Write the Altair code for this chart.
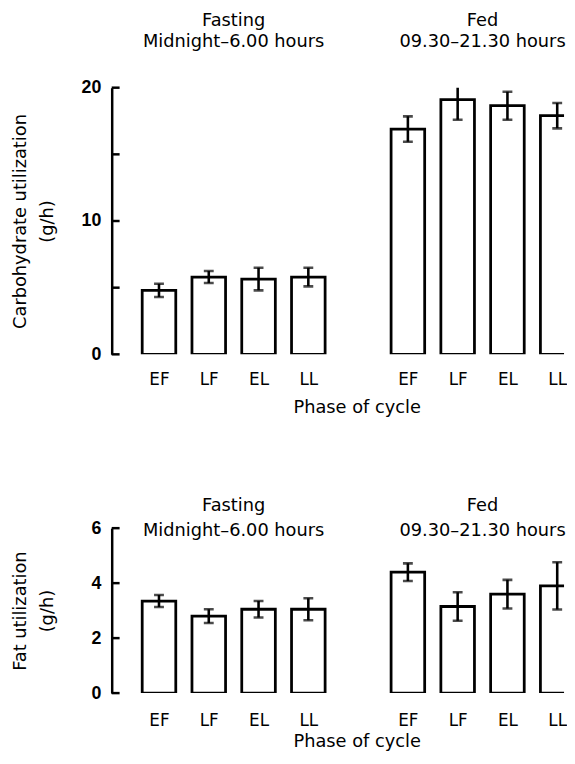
import altair as alt
import pandas as pd

# ---- data ----
phases = ["EF", "LF", "EL", "LL"]
slots_fast = [0, 1, 2, 3]
slots_fed = [5, 6, 7, 8]

carb_mean_fast = [4.8, 5.8, 5.65, 5.8]
carb_err_fast = [0.5, 0.45, 0.85, 0.7]
carb_mean_fed = [16.9, 19.1, 18.65, 17.9]
carb_err_fed = [0.95, 1.5, 1.05, 0.95]

fat_mean_fast = [3.35, 2.8, 3.05, 3.05]
fat_err_fast = [0.22, 0.25, 0.3, 0.4]
fat_mean_fed = [4.4, 3.15, 3.6, 3.9]
fat_err_fed = [0.32, 0.52, 0.52, 0.86]

carb_ticks = [0, 5, 10, 15, 20]
carb_labels = [0, 10, 20]
fat_ticks = [0, 2, 4, 6]
fat_labels = [0, 2, 4, 6]

header_titles = ["Fasting", "Fed"]
header_times = ["Midnight\u20136.00 hours", "09.30\u201321.30 hours"]
header_slots = [1.5, 6.5]

FONT = "DejaVu Sans"
all_slots = slots_fast + slots_fed
label_list = phases + [""] + phases
label_expr = "[" + ",".join("'%s'" % s for s in label_list) + "][datum.value]"

PLOT_W = 458
X_DOMAIN = [-0.95, 8.137]


def panel(mean_f, err_f, mean_d, err_d, ydom, ticks, labels, ytitle, h,
          hy1, hy2, xlabpad, xtitlepad, ytitlepad):
    df = pd.DataFrame({
        "slot": all_slots,
        "phase": phases * 2,
        "mean": mean_f + mean_d,
        "err": err_f + err_d,
    })
    xscale = alt.Scale(domain=X_DOMAIN, nice=False, zero=False, padding=0)
    yscale = alt.Scale(domain=ydom, nice=False, zero=True, padding=0)
    xaxis = alt.Axis(values=all_slots, labelExpr=label_expr, domain=False,
                     ticks=False, grid=False, labelFont=FONT, labelFontSize=17,
                     labelColor="black", labelPadding=xlabpad, labelAngle=0,
                     title="Phase of cycle", titleFont=FONT, titleFontSize=18,
                     titleFontWeight="normal", titleColor="black",
                     titlePadding=xtitlepad, titleX=248, labelOverlap=False,
                     labelBound=False, labelFlush=False)
    yaxis = alt.Axis(values=labels, ticks=False, grid=False, domainColor="black",
                     domainWidth=2.5, labelFont="Liberation Sans", labelFontWeight="bold",
                     labelFontSize=18, labelColor="black", labelPadding=11,
                     title=ytitle, titleFont=FONT, titleFontSize=18,
                     titleFontWeight="normal", titleColor="black",
                     titleLineHeight=27, titlePadding=ytitlepad)

    def X(f):
        return alt.X(f, type="quantitative", scale=xscale, axis=xaxis, title="Phase of cycle")

    def Y(f):
        return alt.Y(f, type="quantitative", scale=yscale, axis=yaxis, title=ytitle)

    base = alt.Chart(df).transform_calculate(
        lo="datum.mean - datum.err", hi="datum.mean + datum.err")

    bars = base.mark_bar(fill="white", stroke="black", strokeWidth=2.8,
                         size=34, clip=True).encode(x=X("slot"), y=Y("mean"))
    whisk = base.mark_rule(color="black", strokeWidth=2.6, clip=True).encode(
        x=X("slot"), y=Y("lo"), y2="hi:Q")
    caps = base.transform_fold(["lo", "hi"], as_=["k", "v"]).mark_tick(
        orient="horizontal", color="black", size=10, thickness=2.6,
        clip=True).encode(x=X("slot"), y=Y("v"))

    tdf = pd.DataFrame({"t": ticks})
    yt = alt.Chart(tdf).mark_rule(color="black", strokeWidth=2.5).encode(
        y=Y("t"), x=alt.value(0), x2=alt.value(8))

    hdf = pd.DataFrame({"slot": header_slots, "title": header_titles,
                        "time": header_times})
    h1 = alt.Chart(hdf).mark_text(font=FONT, fontSize=18, color="black",
                                  baseline="alphabetic", align="center").encode(
        x=X("slot"), y=alt.value(hy1), text="title:N")
    h2 = alt.Chart(hdf).mark_text(font=FONT, fontSize=18, color="black",
                                  baseline="alphabetic", align="center").encode(
        x=X("slot"), y=alt.value(hy2), text="time:N")

    return alt.layer(bars, whisk, caps, yt, h1, h2).properties(width=PLOT_W, height=h)


top = panel(carb_mean_fast, carb_err_fast, carb_mean_fed, carb_err_fed,
            [0, 20], carb_ticks, carb_labels,
            ["Carbohydrate utilization", "(g/h)"], 270, -62, -41, 18, 11, 25)
bottom = panel(fat_mean_fast, fat_err_fast, fat_mean_fed, fat_err_fed,
               [0, 6], fat_ticks, fat_labels,
               ["Fat utilization", "(g/h)"], 167, -17, 8, 20, 4, 35)

chart = alt.vconcat(top, bottom, spacing=176, bounds="flush").properties(
    padding={"left": 3, "top": 0, "right": 0, "bottom": 0}
).configure_view(stroke=None)

chart.save("out.html", embed_options={"renderer": "svg", "actions": False})
